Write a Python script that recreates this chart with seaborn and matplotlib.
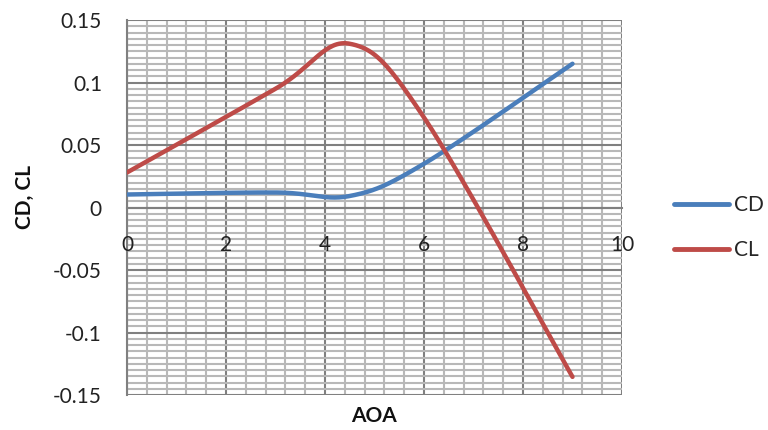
import numpy as np
import pandas as pd
import matplotlib
matplotlib.use("Agg")
import matplotlib.pyplot as plt
import matplotlib.transforms as mtransforms
import seaborn as sns

# ---- data ----
aoa = [0, 3, 4.5, 6, 9]
cd = [0.0104, 0.0120, 0.0092, 0.0350, 0.1150]
cl = [0.0280, 0.0950, 0.1310, 0.0720, -0.1355]
series_names = ["CD", "CL"]
x_ticks = [0, 2, 4, 6, 8, 10]
x_tick_labels = ["0", "2", "4", "6", "8", "10"]
y_ticks = [0.15, 0.1, 0.05, 0, -0.05, -0.1, -0.15]
y_tick_labels = ["0.15", "0.1", "0.05", "0", "-0.05", "-0.1", "-0.15"]
x_label = "AOA"
y_label = "CD, CL"


def excel_smooth(xs, ys, n=60):
    """Excel-style smoothed line (Bezier through points, Catmull-Rom tangents)."""
    P = np.column_stack([xs, ys]).astype(float)
    out = []
    m = len(P)
    t = np.linspace(0, 1, n)[:, None]
    for i in range(m - 1):
        p0 = P[i - 1] if i > 0 else P[i]
        p1, p2 = P[i], P[i + 1]
        p3 = P[i + 2] if i + 2 < m else P[i + 1]
        c1 = p1 + (p2 - p0) / 6.0
        c2 = p2 - (p3 - p1) / 6.0
        seg = ((1 - t) ** 3) * p1 + 3 * ((1 - t) ** 2) * t * c1 + 3 * (1 - t) * t ** 2 * c2 + t ** 3 * p2
        out.append(seg if i == 0 else seg[1:])
    arr = np.vstack(out)
    return arr[:, 0], arr[:, 1]


sns.set_style("white")
plt.rcParams["font.family"] = ["Lato", "DejaVu Sans"]

fig = plt.figure(figsize=(7.68, 4.3), dpi=100)
ax = fig.add_axes([127 / 768, 35 / 430, 495 / 768, 375 / 430])

colors = {"CD": "#4A7EBB", "CL": "#BE4B48"}
frames = []
for name, vals in zip(series_names, [cd, cl]):
    sx, sy = excel_smooth(aoa, vals)
    frames.append(pd.DataFrame({"AOA": sx, "value": sy, "series": name}))
df = pd.concat(frames, ignore_index=True)

for name in series_names:
    sub = df[df["series"] == name]
    sns.lineplot(data=sub, x="AOA", y="value", ax=ax, color=colors[name],
                 linewidth=3.2, sort=False, estimator=None, label=name,
                 solid_capstyle="round", zorder=5)

ax.set_xlim(0, 10)
ax.set_ylim(-0.15, 0.15)

# grid
ax.set_xticks(x_ticks)
ax.set_xticks(np.arange(0, 10.01, 0.4), minor=True)
ax.set_yticks(y_ticks)
ax.set_yticks(np.arange(-0.15, 0.1501, 0.005), minor=True)
ax.grid(which="minor", color="#b8b8b8", linewidth=1.5, zorder=0)
ax.grid(which="major", color="#808080", linewidth=1.5, zorder=1)
ax.set_axisbelow(True)

ax.set_xticklabels([])
ax.set_yticklabels(y_tick_labels)

# x tick labels drawn on top of the grid, just below the zero axis line
lab_trans = mtransforms.offset_copy(ax.transData, fig=fig, x=0, y=-27, units="dots")
for xv, lab in zip(x_ticks, x_tick_labels):
    ax.text(xv, 0, lab, transform=lab_trans, ha="center", va="top",
            fontsize=15, color="#222222", zorder=3, clip_on=False)

for s in ["top", "right"]:
    ax.spines[s].set_visible(False)
ax.spines["bottom"].set_position(("data", 0))
ax.spines["bottom"].set_color("#808080")
ax.spines["bottom"].set_linewidth(1.5)
ax.spines["left"].set_color("#808080")
ax.spines["left"].set_linewidth(1.5)

ax.tick_params(axis="x", which="both", length=0)
ax.tick_params(axis="y", which="major", length=6, width=1.5, color="#808080",
               pad=12, labelsize=15, labelcolor="#222222", direction="out")
ax.tick_params(axis="y", which="minor", length=0)

ax.set_xlabel("")
ax.set_ylabel("")
fig.text(374 / 768, 1 - 416 / 430, x_label, ha="center", va="center",
         fontsize=15, fontweight="bold", color="#111111")
fig.text(25 / 768, 1 - 197 / 430, y_label, ha="center", va="center",
         rotation=90, fontsize=15, fontweight="bold", color="#111111")

leg = ax.legend(loc="center left", bbox_to_anchor=(664 / 768, 1 - 228 / 430),
                bbox_transform=fig.transFigure, frameon=False, fontsize=15,
                handlelength=2.6, handletextpad=0.25, labelspacing=1.2,
                borderpad=0)
for h in leg.get_lines():
    h.set_linewidth(3.5)

fig.savefig("out.png", dpi=100)
